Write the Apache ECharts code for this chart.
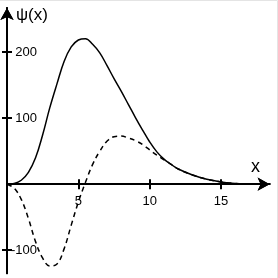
<!DOCTYPE html>
<html>
<head>
<meta charset="utf-8">
<script src="https://cdn.jsdelivr.net/npm/echarts@6/dist/echarts.min.js"></script>
<style>html,body{margin:0;padding:0;background:#fff}#c{width:278px;height:278px}</style>
</head>
<body>
<div id="c"></div>
<script>
const solidX = [0, 0.5, 1.0, 1.5, 2.0, 2.5, 3.0, 3.5, 4.0, 4.5, 5.0, 5.5, 6.0, 6.5, 7.0, 7.5, 8.0, 8.5, 9.0, 9.5, 10.0, 10.5, 11.0, 11.5, 12.0, 13.0, 14.0, 15.0, 16.0, 17.0, 18.0];
const solidY = [0, 1, 6, 18, 40, 75, 116, 152, 186, 208, 218.5, 220.5, 212, 199, 180, 160, 141, 121, 101, 82, 64, 49, 38, 30, 23, 14, 7.5, 3.5, 1.2, 0.5, 0.1];
const dashX = [0, 0.5, 1.0, 1.5, 2.0, 2.5, 3.0, 3.5, 4.0, 4.5, 5.0, 5.5, 6.0, 6.5, 7.0, 7.5, 8.0, 8.5, 9.0, 9.5, 10.0, 10.5, 11.0, 11.5, 12.0, 13.0, 14.0, 15.0, 16.0, 17.0, 18.0];
const dashY = [0, -6, -23, -52, -87, -112, -124, -121, -98, -62, -27, 3, 30, 50, 65, 72, 73, 70, 66, 60, 52, 44, 37, 30, 23, 14, 7.5, 3.5, 1.2, 0.5, 0.1];
const xTicks = [5, 10, 15];
const yTicks = [-100, 100, 200];

const X_MIN = 0, X_MAX = 18.4, Y_MIN = -135, Y_MAX = 267;
const GRID_TOP = 8, GRID_H = 265.3;
const font = 'Liberation Sans, Arial, Helvetica, sans-serif';

function pairs(xs, ys) { return xs.map((x, i) => [x, ys[i]]); }

const gridPos = { left: 7, top: GRID_TOP, width: 262.6, height: GRID_H, outerBoundsMode: 'none', containLabel: false };
// offset that lifts the bottom x axis from the grid bottom to the y = 0 level
const zeroOffset = -GRID_H * (0 - Y_MIN) / (Y_MAX - Y_MIN);

function mkX(gridIndex, inside, labels) {
  return {
    type: 'value', gridIndex, min: X_MIN, max: X_MAX, position: 'bottom', offset: zeroOffset,
    splitLine: { show: false },
    axisLine: { show: true, onZero: false, symbol: ['none', 'arrow'], symbolSize: [10, 12],
      lineStyle: { color: '#000', width: 2 } },
    axisTick: { show: true, inside, length: 5, lineStyle: { color: '#000', width: 2 }, customValues: xTicks },
    axisLabel: { show: labels, margin: 11, color: '#000', fontSize: 13, fontFamily: font, customValues: xTicks }
  };
}
function mkY(gridIndex, inside, labels) {
  return {
    type: 'value', gridIndex, min: Y_MIN, max: Y_MAX,
    splitLine: { show: false },
    axisLine: { show: true, onZero: false, symbol: ['none', 'arrow'], symbolSize: [10, 12],
      lineStyle: { color: '#000', width: 2 } },
    axisTick: { show: true, inside, length: 5, lineStyle: { color: '#000', width: 2 }, customValues: yTicks },
    axisLabel: { show: labels, margin: -30, align: 'right', color: '#000', fontSize: 13, fontFamily: font, customValues: yTicks }
  };
}

const chart = echarts.init(document.getElementById('c'), null, { renderer: 'canvas' });
chart.setOption({
  animation: false,
  backgroundColor: '#fff',
  grid: [Object.assign({}, gridPos), Object.assign({}, gridPos)],
  xAxis: [mkX(0, false, true), mkX(1, true, false)],
  yAxis: [mkY(0, false, true), mkY(1, true, false)],
  series: [
    { type: 'line', xAxisIndex: 0, yAxisIndex: 0, data: pairs(solidX, solidY), smooth: 0.4, showSymbol: false,
      lineStyle: { color: '#000', width: 1.5 }, z: 3 },
    { type: 'line', xAxisIndex: 0, yAxisIndex: 0, data: pairs(dashX, dashY), smooth: 0.4, showSymbol: false,
      lineStyle: { color: '#000', width: 1.5, type: [5, 4] }, z: 3 }
  ],
  graphic: [
    { type: 'text', left: 16, top: 7, style: { text: 'ψ(x)', fontSize: 17, fontFamily: font, fill: '#000' } },
    { type: 'text', x: 251, y: 167, style: { text: 'x', fontSize: 18, fontFamily: font, fill: '#000', verticalAlign: 'middle' } },
    { type: 'polyline', shape: { points: [[0, 0.5], [277.5, 0.5], [277.5, 278]] }, style: { stroke: '#e4e4e4', lineWidth: 1, fill: null } }
  ]
});
</script>
</body>
</html>
